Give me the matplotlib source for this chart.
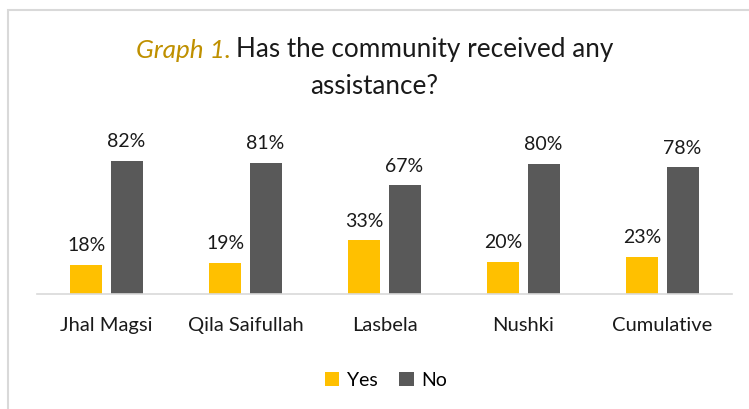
import numpy as np
import matplotlib.pyplot as plt
from matplotlib.patches import Rectangle

plt.rcParams['font.family'] = ['Lato', 'DejaVu Sans']

districts = ['Jhal Magsi', 'Qila Saifullah', 'Lasbela', 'Nushki', 'Cumulative']
yes_pct = [18, 19, 33, 20, 23]
no_pct = [82, 81, 67, 80, 78]

YELLOW = '#FFC000'
GREY = '#595959'
LINE = '#D9D9D9'
TXT = '#1a1a1a'

fig = plt.figure(figsize=(7.49, 4.10), dpi=100)

# light frame around the chart area (left and top edges visible)
frame = Rectangle((7.5 / 749, -0.05), 1.0, (410 - 10.5) / 410 + 0.05,
                  transform=fig.transFigure, fill=False,
                  edgecolor=LINE, linewidth=1.5)
fig.patches.append(frame)

ax = fig.add_axes([37 / 749, (410 - 295) / 410, 695 / 749, 146 / 410])

x = np.arange(len(districts))
w = 0.23
gap = 0.058
b1 = ax.bar(x - (w + gap) / 2, yes_pct, w, color=YELLOW, label='Yes')
b2 = ax.bar(x + (w + gap) / 2, no_pct, w, color=GREY, label='No')

for bars, vals in ((b1, yes_pct), (b2, no_pct)):
    for rect, v in zip(bars, vals):
        ax.annotate(f'{v}%', (rect.get_x() + rect.get_width() / 2, v),
                    xytext=(0, 8.5), textcoords='offset points',
                    ha='center', va='bottom', fontsize=14, color=TXT)

ax.set_xlim(-0.5, len(districts) - 0.5)
ax.set_ylim(0, 90)
ax.set_yticks([])
ax.set_xticks(x)
ax.set_xticklabels(districts, fontsize=14.5, color=TXT)
ax.tick_params(axis='x', length=0, pad=16)
for side in ('top', 'right', 'left'):
    ax.spines[side].set_visible(False)
ax.spines['bottom'].set_color(LINE)
ax.spines['bottom'].set_linewidth(1.2)

# title: italic gold prefix followed by the question
TITLE_FS = 18.8
t_main = fig.text(0.5, (410 - 50) / 410, 'Has the community received any',
                  ha='center', va='center', fontsize=TITLE_FS, color=TXT)
fig.canvas.draw()
bb = t_main.get_window_extent()
prefix = fig.text(bb.x0 / 749 - 0.007, (410 - 50) / 410, 'Graph 1.',
                  ha='right', va='center', fontsize=TITLE_FS, style='italic',
                  color='#BF9000')
# shift both pieces so the full first line is centred
fig.canvas.draw()
pb = prefix.get_window_extent()
shift = ((pb.x1 - pb.x0) + 0.007 * 749) / 2 / 749
t_main.set_x(0.5 + shift)
prefix.set_x(prefix.get_position()[0] + shift)
fig.text(0.5, (410 - 87) / 410, 'assistance?',
         ha='center', va='center', fontsize=TITLE_FS, color=TXT)

leg = fig.legend(handles=[b1, b2], labels=['Yes', 'No'], loc='center',
                 bbox_to_anchor=(386 / 749, (410 - 381) / 410), ncol=2,
                 frameon=False, fontsize=14, handlelength=0.75, handleheight=0.75,
                 handletextpad=0.4, columnspacing=1.1)

fig.savefig('out.png', dpi=100)
